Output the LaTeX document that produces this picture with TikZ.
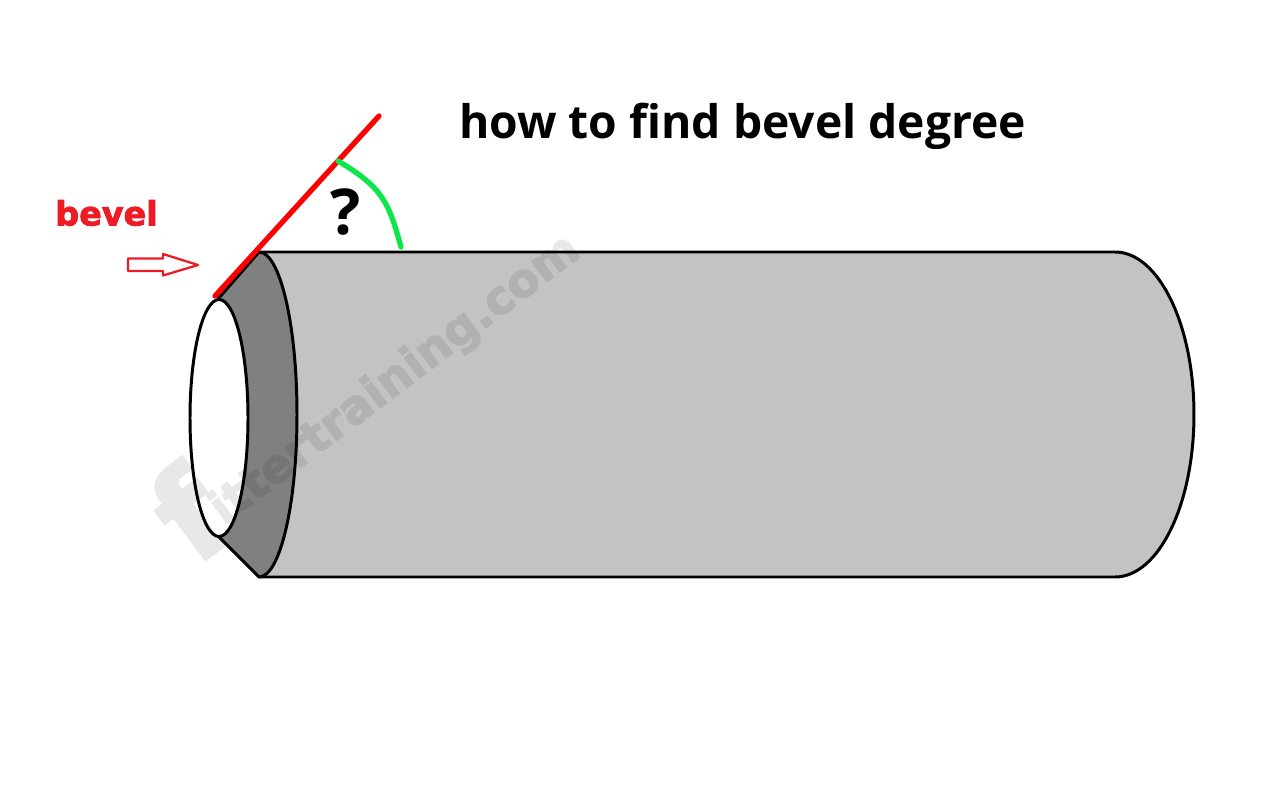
\documentclass[tikz,border=0pt]{standalone}
\usepackage{fontspec}
\setmainfont{Open Sans}
\newfontface\bevelfont{DejaVu Sans Bold}[FakeBold=2.4]
\usetikzlibrary{positioning}
\definecolor{bodygray}{HTML}{C3C3C3}
\definecolor{bandgray}{HTML}{808080}
\definecolor{bevelred}{HTML}{ED1C24}
\definecolor{anglegreen}{HTML}{0BE64B}
\tikzset{
  outline/.style={draw=black,line width=1.7pt,line join=round},
  mark line/.style={line width=3pt,line cap=round},
  wmark/.style={black,rotate=37,inner sep=0pt}
}
\begin{document}
\begin{tikzpicture}[scale=0.2]
        \useasboundingbox (0,0) rectangle (126.4,-80.6);
        \coordinate (top) at (25.9,-25.2);
        \coordinate (bot) at (25.9,-57.7);
        \coordinate (topr) at (111.5,-25.2);
        \coordinate (botr) at (111.5,-57.7);
        \coordinate (lip1) at (21.8,-29.9);
        \coordinate (lip2) at (21.8,-53.6);
        % pipe body
        \draw [outline,fill=bodygray] (top) -- (topr) arc (90:-90:7.9 and 16.25) -- (bot) -- cycle;
        % bevel band
        \draw [outline,fill=bandgray] (top) arc (90:-90:3.8 and 16.25) -- (lip2) -- (lip1) -- cycle;
        % hole
        \draw [outline,fill=white] (21.9,-41.8) ellipse (2.9 and 11.85);
        % watermark
        \begin{scope}[transparency group,opacity=0.09]
        \node [wmark,font=\bevelfont\fontsize{26.5pt}{26.5pt}\selectfont,anchor=south west] (wmtext) at (23,-53.4) {ittertraining.com};
        \node [wmark,font=\bevelfont\fontsize{72pt}{72pt}\selectfont,anchor=south west] (wmf) at (19.5,-56.8) {f};
        \end{scope}
        % bevel line and angle
        \coordinate (r1) at (21.5,-29.6);
        \coordinate (r2) at (37.9,-11.6);
        \coordinate (g1) at (33.8,-16.1);
        \coordinate (g2) at (40.1,-24.7);
        \draw [mark line,red] (r1) -- (r2);
        \draw [mark line,anglegreen] (g1) .. controls (38.4,-18.8) and (38.9,-20.4) .. (g2);
        \node [font=\bfseries\fontsize{36pt}{36pt}\selectfont,inner sep=0pt] (what) at (34.6,-21.2) {?};
        \node [font=\bfseries\fontsize{26.3pt}{26.3pt}\selectfont,inner sep=0pt] (title) at (74.25,-12.6) {how to find bevel degree};
        \node [font=\bevelfont\fontsize{19pt}{19pt}\selectfont,text=bevelred,inner sep=0pt] (lbl) at (10.65,-21.3) {bevel};
        % hollow arrow
        \draw [draw=bevelred,fill=white,line width=1.3pt,line join=round] (12.8,-25.85) -- (16.3,-25.85) -- (16.3,-25.4) -- (19.8,-26.5) -- (16.3,-27.55) -- (16.3,-27.1) -- (12.8,-27.1) -- cycle;
\end{tikzpicture}
\end{document}
